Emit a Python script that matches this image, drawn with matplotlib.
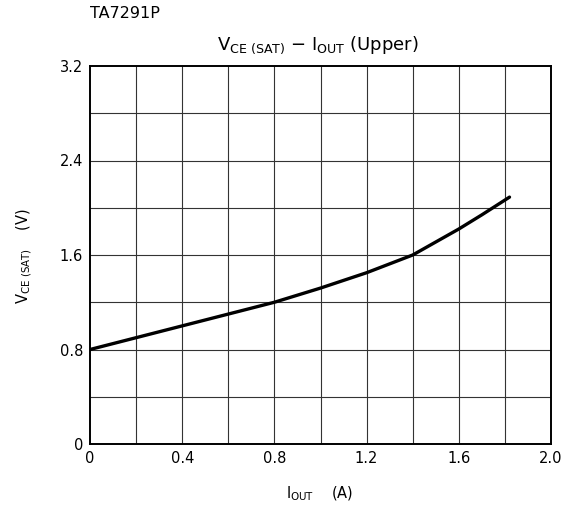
import numpy as np
import matplotlib.pyplot as plt
import matplotlib

matplotlib.rcParams['font.family'] = 'DejaVu Sans'
matplotlib.rcParams['mathtext.fontset'] = 'dejavusans'

# values
i_out = [0.0, 0.2, 0.4, 0.6, 0.8, 1.0, 1.2, 1.4, 1.5, 1.6, 1.7, 1.82]
v_sat = [0.80, 0.90, 1.00, 1.10, 1.20, 1.32, 1.45, 1.60, 1.71, 1.82, 1.94, 2.09]

x_ticks = [0, 0.4, 0.8, 1.2, 1.6, 2.0]
x_tick_labels = ["0", "0.4", "0.8", "1.2", "1.6", "2.0"]
y_ticks = [0, 0.8, 1.6, 2.4, 3.2]
y_tick_labels = ["0", "0.8", "1.6", "2.4", "3.2"]

size_labels = 10.5

fig = plt.figure(figsize=(5.64, 5.12), dpi=100)
ax = fig.add_axes([90/564, 1-444/512, 461/564, 378/512])

# fine grid
for xv in np.arange(0.2, 2.0, 0.2):
    ax.axvline(xv, color="#333333", lw=0.8, zorder=1)
for yv in np.arange(0.4, 3.2, 0.4):
    ax.axhline(yv, color="#333333", lw=0.8, zorder=1)

ax.plot(i_out, v_sat, color="k", lw=2.4, solid_capstyle="round",
        solid_joinstyle="round", zorder=3)

ax.set_xlim(0, 2.0)
ax.set_ylim(0, 3.2)
ax.set_xticks(x_ticks)
ax.set_xticklabels(x_tick_labels)
ax.set_yticks(y_ticks)
ax.set_yticklabels(y_tick_labels)
ax.tick_params(length=0, labelsize=size_labels, pad=5)
for s in ax.spines.values():
    s.set_linewidth(1.4)

fig.text(90/564, 1-14/512, "TA7291P", fontsize=11.5, va="center", ha="left")
fig.text(318/564, 1-45/512, r"V$_{\mathrm{CE\ (SAT)}}$ $-$ I$_{\mathrm{OUT}}$ (Upper)",
         fontsize=13, va="center", ha="center")
fig.text(320/564, 1-494/512, r"I$_{\mathrm{OUT}}$    (A)", fontsize=10.5,
         va="center", ha="center")
fig.text(24/564, 1-256/512, r"V$_{\mathrm{CE\ (SAT)}}$    (V)", fontsize=10.5,
         va="center", ha="center", rotation=90)

plt.savefig("out.png", dpi=100)
